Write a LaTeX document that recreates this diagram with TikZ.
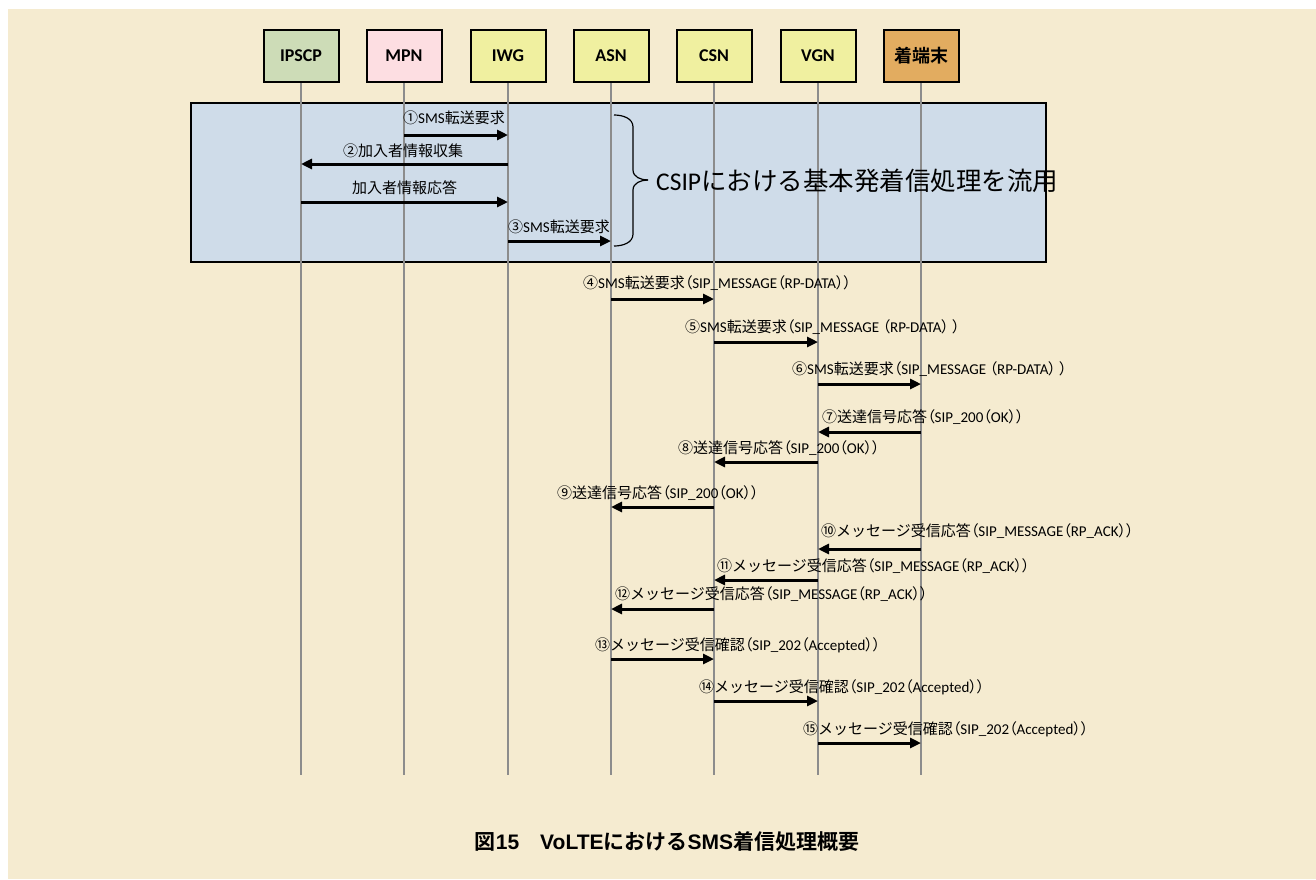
\documentclass[tikz,border=0pt]{standalone}
\usepackage{fontspec}
\setmainfont{Carlito}
\newfontfamily\jp{Noto Sans CJK JP}[BoldFont={Noto Sans CJK JP Bold}]
\newfontfamily\jpp{Noto Sans CJK JP}[RawFeature=+palt]
\newfontfamily\capfont{Liberation Sans}
\newcommand\J[1]{{\jp #1}}
\newcommand\Lp{{\jpp （}}
\newcommand\Rp{{\jpp ）}}
\newcommand\Cf[1]{{\capfont #1}}
\usetikzlibrary{arrows.meta}
\definecolor{paper}{RGB}{245,235,208}
\definecolor{areafill}{RGB}{207,220,233}
\definecolor{greenbox}{RGB}{205,220,183}
\definecolor{pinkbox}{RGB}{253,222,226}
\definecolor{yellowbox}{RGB}{240,240,160}
\definecolor{orangebox}{RGB}{226,172,96}
\definecolor{lifegray}{RGB}{140,140,140}
\tikzset{
  entity/.style={draw=black, line width=2pt, minimum width=75pt, minimum height=52pt,
    inner sep=0pt, font=\fontsize{18}{18}\selectfont\bfseries},
  lifeline/.style={draw=lifegray, line width=1.6pt},
  msg/.style={line width=3pt, -{Triangle[length=11pt,width=10pt]}},
  msglabel/.style={anchor=west, inner sep=0pt, font=\fontsize{15}{15}\selectfont},
}
\begin{document}
\begin{tikzpicture}[x=1pt,y=-1pt]
\useasboundingbox (0,0) rectangle (1316,879);
\fill[white] (0,0) rectangle (1316,879);
\fill[paper] (8,9) rectangle (1316,879);

% shared CSIP processing area
\draw[line width=2pt, fill=areafill] (191,103) rectangle (1046,262);

% entities
\node[entity, fill=greenbox]  (ipscp) at (301,56) {IPSCP};
\node[entity, fill=pinkbox]   (mpn)   at (404,56) {MPN};
\node[entity, fill=yellowbox] (iwg)   at (508,56) {IWG};
\node[entity, fill=yellowbox] (asn)   at (611,56) {ASN};
\node[entity, fill=yellowbox] (csn)   at (714,56) {CSN};
\node[entity, fill=yellowbox] (vgn)   at (818,56) {VGN};
\node[entity, fill=orangebox] (term)  at (921,56) {\J{着端末}};

% lifelines
\foreach \n in {ipscp,mpn,iwg,asn,csn,vgn,term}{
  \coordinate (\n-end) at (\n.south |- 0,775);
  \draw[lifeline] (\n.south) -- (\n-end);
}

% messages inside the CSIP area
\draw[msg] (mpn |- 0,135) -- (iwg |- 0,135);
\node[msglabel] (l1) at (403,118) {\J{①}SMS\J{転送要求}};
\draw[msg] (iwg |- 0,164) -- (ipscp |- 0,164);
\node[msglabel] (l2) at (343,151) {\J{②加入者情報収集}};
\draw[msg] (ipscp |- 0,202) -- (iwg |- 0,202);
\node[msglabel] (l2b) at (352,188) {\J{加入者情報応答}};
\draw[msg] (iwg |- 0,241) -- (asn |- 0,241);
\node[msglabel] (l3) at (508,227) {\J{③}SMS\J{転送要求}};

% brace and note
\draw[line width=1.2pt] (614,115) to[out=0,in=90] (633,127) -- (633,170)
  to[out=-90,in=180] (648,180);
\draw[line width=1.2pt] (648,180) to[out=180,in=90] (633,190) -- (633,234)
  to[out=-90,in=0] (614,246);
\node[anchor=west, inner sep=0pt, font=\fontsize{25.5}{25.5}\selectfont] (note) at (656,181)
  {CSIP\J{における基本発着信処理を流用}};

% SMS delivery sequence
\draw[msg] (asn |- 0,299) -- (csn |- 0,299);
\node[msglabel] (l4) at (583,283) {\J{④}SMS\J{転送要求}\Lp SIP\_MESSAGE\Lp RP-DATA\Rp\Rp};
\draw[msg] (csn |- 0,342) -- (vgn |- 0,342);
\node[msglabel] (l5) at (685,327) {\J{⑤}SMS\J{転送要求}\Lp SIP\_MESSAGE \Lp RP-DATA\Rp\ \Rp};
\draw[msg] (vgn |- 0,384) -- (term |- 0,384);
\node[msglabel] (l6) at (792,369) {\J{⑥}SMS\J{転送要求}\Lp SIP\_MESSAGE \Lp RP-DATA\Rp\ \Rp};

\draw[msg] (term |- 0,432) -- (vgn |- 0,432);
\node[msglabel] (l7) at (822,417) {\J{⑦送達信号応答}\Lp SIP\_200\Lp OK\Rp\Rp};
\draw[msg] (vgn |- 0,462) -- (csn |- 0,462);
\node[msglabel] (l8) at (678,448) {\J{⑧送達信号応答}\Lp SIP\_200\Lp OK\Rp\Rp};
\draw[msg] (csn |- 0,507) -- (asn |- 0,507);
\node[msglabel] (l9) at (557,493) {\J{⑨送達信号応答}\Lp SIP\_200\Lp OK\Rp\Rp};

\draw[msg] (term |- 0,549) -- (vgn |- 0,549);
\node[msglabel] (l10) at (821,531) {\J{⑩メッセージ受信応答}\Lp SIP\_MESSAGE\Lp RP\_ACK\Rp\Rp};
\draw[msg] (vgn |- 0,580) -- (csn |- 0,580);
\node[msglabel] (l11) at (717,566) {\J{⑪メッセージ受信応答}\Lp SIP\_MESSAGE\Lp RP\_ACK\Rp\Rp};
\draw[msg] (csn |- 0,609) -- (asn |- 0,609);
\node[msglabel] (l12) at (615,594) {\J{⑫メッセージ受信応答}\Lp SIP\_MESSAGE\Lp RP\_ACK\Rp\Rp};

\draw[msg] (asn |- 0,659) -- (csn |- 0,659);
\node[msglabel] (l13) at (595,645) {\J{⑬メッセージ受信確認}\Lp SIP\_202\Lp Accepted\Rp\Rp};
\draw[msg] (csn |- 0,701) -- (vgn |- 0,701);
\node[msglabel] (l14) at (699,687) {\J{⑭メッセージ受信確認}\Lp SIP\_202\Lp Accepted\Rp\Rp};
\draw[msg] (vgn |- 0,743) -- (term |- 0,743);
\node[msglabel] (l15) at (803,729) {\J{⑮メッセージ受信確認}\Lp SIP\_202\Lp Accepted\Rp\Rp};

% caption
\node[font=\fontsize{21}{21}\selectfont\bfseries, inner sep=0pt] (caption) at (667,842)
  {\J{図}\Cf{15}\J{　}\Cf{VoLTE}\J{における}\Cf{SMS}\J{着信処理概要}};
\end{tikzpicture}
\end{document}
